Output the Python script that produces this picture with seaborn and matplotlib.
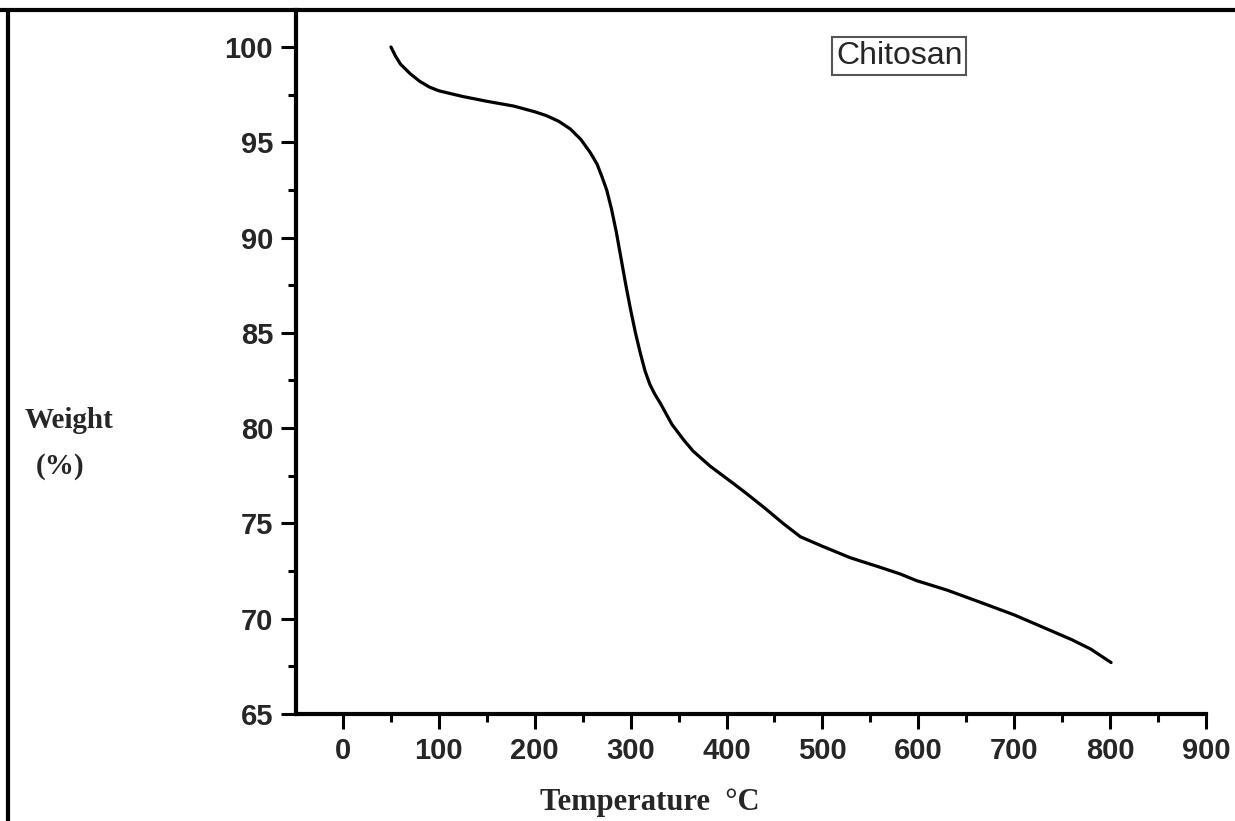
import matplotlib
matplotlib.use("Agg")
import matplotlib.pyplot as plt
from matplotlib.lines import Line2D
from matplotlib.ticker import MultipleLocator
import seaborn as sns
import pandas as pd

# Data
temperature = [50, 55, 60, 70, 80, 90, 100, 125, 150, 178, 200, 212, 225, 237, 248, 258,
               265, 270, 275, 280, 285, 290, 295, 300, 305, 310, 315, 320, 325, 331, 343,
               355, 365, 383, 407, 420, 440, 459, 477, 500, 529, 560, 581, 598, 630, 668,
               700, 737, 760, 780, 801]
weight = [100.0, 99.5, 99.1, 98.6, 98.2, 97.9, 97.7, 97.4, 97.15, 96.9, 96.6, 96.4, 96.1, 95.7,
          95.15, 94.45, 93.85, 93.2, 92.5, 91.5, 90.3, 88.9, 87.5, 86.2, 85.0, 83.95, 83.0,
          82.3, 81.8, 81.3, 80.2, 79.4, 78.8, 78.0, 77.1, 76.6, 75.8, 75.0, 74.3, 73.8, 73.2,
          72.7, 72.35, 72.0, 71.5, 70.8, 70.2, 69.4, 68.9, 68.4, 67.7]
x_ticks = [0, 100, 200, 300, 400, 500, 600, 700, 800, 900]
y_ticks = [65, 70, 75, 80, 85, 90, 95, 100]
legend_label = "Chitosan"

df = pd.DataFrame({"Temperature": temperature, "Weight": weight})

sns.set_theme(style="white")
plt.rcParams["font.family"] = ["Liberation Sans", "DejaVu Sans"]

fig = plt.figure(figsize=(12.35, 8.21), dpi=100)
ax = fig.add_axes([296 / 1235, 1 - 714 / 821, (1206 - 296) / 1235, (714 - 10) / 821])

sns.lineplot(data=df, x="Temperature", y="Weight", ax=ax, color="black", linewidth=2.3,
             estimator=None, sort=False)
for ln in ax.get_lines():
    ln.set_solid_joinstyle("round")
    ln.set_solid_capstyle("round")

ax.set_xlim(-49, 900)
ax.set_ylim(65, 101.94)
ax.set_xticks(x_ticks)
ax.set_yticks(y_ticks)
ax.xaxis.set_minor_locator(MultipleLocator(50))
ax.yaxis.set_minor_locator(MultipleLocator(2.5))
ax.set_xticklabels([str(t) for t in x_ticks], fontsize=21, fontweight="bold")
ax.set_yticklabels([str(t) for t in y_ticks], fontsize=21, fontweight="bold")
ax.tick_params(which="major", direction="out", length=10.5, width=2.2, color="black",
               left=True, bottom=True, pad=6)
ax.tick_params(which="minor", direction="out", length=6, width=2.2, color="black",
               left=True, bottom=True)
ax.set_xlabel("")
ax.set_ylabel("")
for side in ["top", "right"]:
    ax.spines[side].set_visible(False)
for side in ["left", "bottom"]:
    ax.spines[side].set_visible(True)
    ax.spines[side].set_linewidth(3)
    ax.spines[side].set_color("black")
ax.set_facecolor("white")

ax.text(580, 99.53, legend_label, fontsize=23, ha="center", va="center",
        bbox=dict(boxstyle="square,pad=0.12", facecolor="white", edgecolor="#555555", linewidth=1.5))

fig.text(25 / 1235, 1 - 420 / 821, "Weight", family=["Liberation Serif", "DejaVu Serif"],
         fontsize=21, fontweight="bold", ha="left", va="center")
fig.text(36 / 1235, 1 - 466 / 821, "(%)", family=["Liberation Serif", "DejaVu Serif"],
         fontsize=21, fontweight="bold", ha="left", va="center")
fig.text(540 / 1235, 1 - 802 / 821, "Temperature  \u00b0C", family=["Liberation Serif", "DejaVu Serif"],
         fontsize=22, fontweight="bold", ha="left", va="center")

# outer frame (top and left)
fig.add_artist(Line2D([0, 1], [1 - 10.5 / 821, 1 - 10.5 / 821], transform=fig.transFigure,
                      color="black", linewidth=3))
fig.add_artist(Line2D([8 / 1235, 8 / 1235], [0, 1 - 10.5 / 821], transform=fig.transFigure,
                      color="black", linewidth=3))

fig.savefig("out.png", dpi=100, facecolor="white")
